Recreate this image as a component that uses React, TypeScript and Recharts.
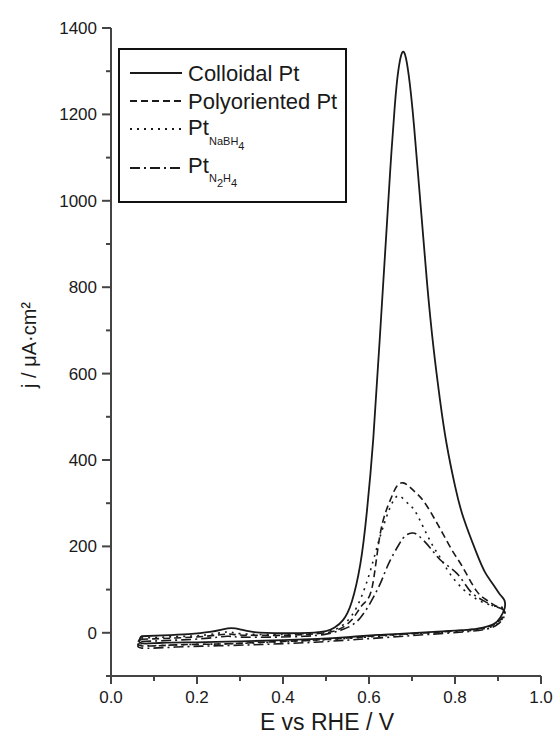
import React from 'react';
import { LineChart, Line, XAxis, YAxis } from 'recharts';

// [E / V, j / µA·cm-2] — anodic sweep then cathodic sweep, each curve is a closed loop
const colloidalPt: [number, number][] = [
  [0.07, -8], [0.12, -6], [0.18, -3], [0.23, 2], [0.26, 8], [0.28, 11], [0.3, 8], [0.33, 2],
  [0.4, -1], [0.46, 0], [0.5, 4], [0.52, 12], [0.54, 30], [0.56, 72], [0.58, 160], [0.595, 280],
  [0.61, 450], [0.625, 680], [0.64, 920], [0.65, 1080], [0.66, 1220], [0.668, 1300], [0.677, 1343],
  [0.686, 1330], [0.695, 1270], [0.705, 1170], [0.72, 990], [0.735, 810], [0.75, 660], [0.765, 540],
  [0.78, 440], [0.8, 340], [0.82, 265], [0.85, 185], [0.87, 140], [0.89, 110], [0.905, 88], [0.915, 75],
  [0.915, 55], [0.905, 35], [0.89, 20], [0.86, 11], [0.82, 6], [0.75, 2], [0.68, -2], [0.62, -5],
  [0.55, -10], [0.48, -14], [0.4, -17], [0.3, -20], [0.2, -22], [0.12, -23], [0.07, -24], [0.07, -8],
];

const polyorientedPt: [number, number][] = [
  [0.07, -15], [0.15, -12], [0.22, -8], [0.27, -3], [0.3, -5], [0.38, -6], [0.45, -4], [0.5, 0],
  [0.53, 8], [0.56, 30], [0.585, 65], [0.607, 104], [0.626, 229], [0.649, 306], [0.665, 340],
  [0.679, 347], [0.692, 340], [0.705, 328], [0.726, 306], [0.75, 268], [0.772, 229], [0.795, 188],
  [0.819, 150], [0.85, 97], [0.875, 75], [0.895, 62], [0.91, 56],
  [0.915, 45], [0.9, 25], [0.87, 12], [0.82, 6], [0.75, 1], [0.65, -5], [0.55, -12], [0.45, -18],
  [0.35, -22], [0.25, -26], [0.15, -28], [0.07, -30], [0.07, -15],
];

const ptNaBH4: [number, number][] = [
  [0.07, -12], [0.15, -9], [0.22, -5], [0.27, 2], [0.3, -2], [0.38, -4], [0.45, -2], [0.5, 3],
  [0.53, 12], [0.56, 40], [0.585, 90], [0.605, 150], [0.625, 220], [0.645, 280], [0.658, 308],
  [0.668, 317], [0.68, 310], [0.695, 295], [0.711, 275], [0.742, 213], [0.765, 175], [0.788, 137],
  [0.82, 100], [0.85, 78], [0.88, 65], [0.905, 60], [0.915, 55],
  [0.915, 42], [0.9, 22], [0.87, 10], [0.82, 4], [0.75, 0], [0.65, -6], [0.55, -13], [0.45, -19],
  [0.35, -23], [0.25, -26], [0.15, -28], [0.07, -29], [0.07, -12],
];

const ptN2H4: [number, number][] = [
  [0.07, -20], [0.15, -17], [0.22, -13], [0.27, -8], [0.3, -10], [0.38, -10], [0.45, -8], [0.5, -3],
  [0.54, 8], [0.58, 35], [0.618, 97], [0.635, 135], [0.649, 167], [0.67, 205], [0.685, 225],
  [0.7, 231], [0.715, 225], [0.742, 197], [0.77, 165], [0.805, 137], [0.835, 97], [0.865, 75],
  [0.89, 62], [0.91, 55],
  [0.915, 40], [0.9, 20], [0.87, 8], [0.82, 2], [0.75, -3], [0.65, -10], [0.55, -17], [0.45, -23],
  [0.35, -27], [0.25, -30], [0.15, -33], [0.07, -35], [0.07, -20],
];

const xTicks = [0, 0.1, 0.2, 0.3, 0.4, 0.5, 0.6, 0.7, 0.8, 0.9, 1.0];
const yTicks = [-100, 0, 100, 200, 300, 400, 500, 600, 700, 800, 900, 1000, 1100, 1200, 1300, 1400];

const FONT = '"Liberation Sans", Arial, Helvetica, sans-serif';
const INK = '#1a1a1a';

const toRows = (pts: [number, number][]) => pts.map(([E, j]) => ({ E, j }));

const series = [
  { key: 'colloidal', data: toRows(colloidalPt), dash: undefined, width: 1.8 },
  { key: 'poly', data: toRows(polyorientedPt), dash: '7 4', width: 1.6 },
  { key: 'nabh4', data: toRows(ptNaBH4), dash: '2 5', width: 1.6 },
  { key: 'n2h4', data: toRows(ptN2H4), dash: '10 4 2 4', width: 1.6 },
];

const YTick = (props: any) => {
  const { x, y, payload } = props;
  const major = payload.value % 200 === 0;
  return (
    <g>
      <line x1={x - (major ? 9 : 5)} x2={x} y1={y} y2={y} stroke="#444" strokeWidth={2} />
      {major && (
        <text x={x - 14} y={y} dy={6} textAnchor="end" fontSize={17} fill={INK} fontFamily={FONT}>
          {payload.value}
        </text>
      )}
    </g>
  );
};

const XTick = (props: any) => {
  const { x, y, payload } = props;
  const major = Math.round(payload.value * 10) % 2 === 0;
  return (
    <g>
      <line x1={x} x2={x} y1={y} y2={y + (major ? 8 : 5)} stroke="#444" strokeWidth={2} />
      {major && (
        <text x={x} y={y + 27} textAnchor="middle" fontSize={17} fill={INK} fontFamily={FONT}>
          {payload.value.toFixed(1)}
        </text>
      )}
    </g>
  );
};

const LegendBox = () => {
  const rows = [
    { y: 25, dash: undefined },
    { y: 53, dash: '7 4' },
    { y: 81, dash: '2 5' },
    { y: 120, dash: '10 4 2 4' },
  ];
  return (
    <svg
      width={229}
      height={155}
      style={{ position: 'absolute', left: 118, top: 48 }}
      fontFamily={FONT}
      fill={INK}
    >
      <rect x={1} y={1} width={227} height={153} fill="#fff" stroke="#111" strokeWidth={2} />
      {rows.map((r) => (
        <line key={r.y} x1={12} x2={64} y1={r.y} y2={r.y} stroke={INK} strokeWidth={1.8} strokeDasharray={r.dash} />
      ))}
      <text x={70} y={33} fontSize={22}>Colloidal Pt</text>
      <text x={70} y={61} fontSize={22}>Polyoriented Pt</text>
      <text x={70} y={87} fontSize={22}>Pt</text>
      <text x={91} y={97} fontSize={11}>
        NaBH<tspan dy={5}>4</tspan>
      </text>
      <text x={70} y={125} fontSize={22}>Pt</text>
      <text x={91} y={134} fontSize={11}>
        N<tspan dy={5}>2</tspan>
        <tspan dy={-5}>H</tspan>
        <tspan dy={5}>4</tspan>
      </text>
    </svg>
  );
};

const App: React.FC = () => {
  return (
    <div style={{ position: 'absolute', left: 0, top: 0, width: 557, height: 734, background: '#fff' }}>
      <LineChart width={557} height={734} margin={{ top: 28, right: 16, bottom: 28, left: 51 }}>
        <XAxis
          dataKey="E"
          type="number"
          domain={[0, 1]}
          ticks={xTicks}
          height={30}
          tickSize={0}
          tickMargin={0}
          tickLine={false}
          tick={<XTick />}
          axisLine={{ stroke: '#444', strokeWidth: 2 }}
          interval={0}
          allowDataOverflow
          label={{
            content: () => (
              <text x={327} y={730} textAnchor="middle" fontSize={23} fill={INK} fontFamily={FONT}>
                E vs RHE / V
              </text>
            ),
          }}
        />
        <YAxis
          type="number"
          domain={[-100, 1400]}
          ticks={yTicks}
          width={60}
          tickSize={0}
          tickMargin={0}
          tickLine={false}
          tick={<YTick />}
          axisLine={{ stroke: '#444', strokeWidth: 2 }}
          interval={0}
          allowDataOverflow
          label={{
            content: () => (
              <text
                x={36}
                y={345}
                transform="rotate(-90 36 345)"
                textAnchor="middle"
                fontSize={20}
                fill={INK}
                fontFamily={FONT}
              >
                j / μA·cm²
              </text>
            ),
          }}
        />
        {series.map((s) => (
          <Line
            key={s.key}
            data={s.data}
            dataKey="j"
            type="natural"
            stroke={INK}
            strokeWidth={s.width}
            strokeDasharray={s.dash}
            dot={false}
            activeDot={false}
            isAnimationActive={false}
          />
        ))}
      </LineChart>
      <LegendBox />
    </div>
  );
};

export default App;
